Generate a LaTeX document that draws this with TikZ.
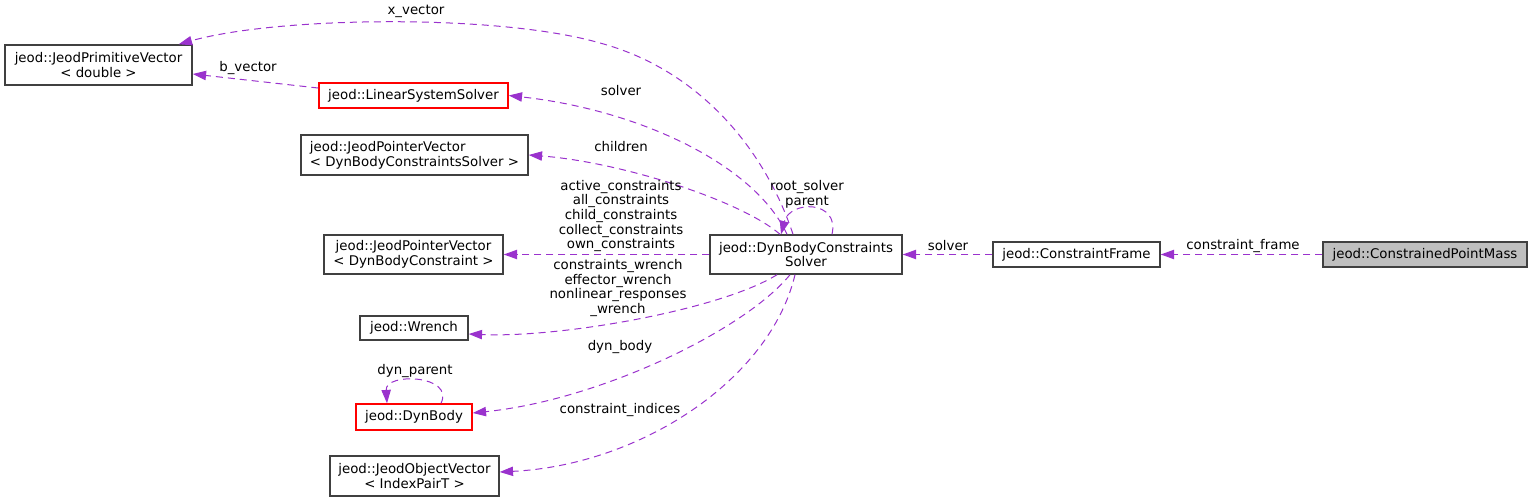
\documentclass[tikz,border=0pt]{standalone}
\usepackage{fontspec}
\setmainfont{DejaVu Sans}
\usetikzlibrary{arrows.meta}
\definecolor{edgec}{HTML}{9A32CD}
\definecolor{boxc}{HTML}{404040}
\definecolor{redc}{HTML}{FF0000}
\definecolor{fillc}{HTML}{BFBFBF}
\begin{document}
\begin{tikzpicture}[x=0.75pt,y=-0.75pt,
  box/.style={draw=boxc,line width=1.1pt,inner sep=0pt,font=\fontsize{10}{11}\selectfont,align=center},
  redbox/.style={box,draw=redc},
  edge/.style={draw=edgec,line width=0.75pt,dash pattern=on 5.25pt off 3.75pt,-{Triangle[length=10pt,width=7pt]}},
  lab/.style={font=\fontsize{10}{11}\selectfont,align=center,inner sep=0pt}]
\useasboundingbox (0,0) rectangle (1532,502);
% nodes
\node[box,minimum width=140.25pt,minimum height=30pt] (pvd) at (98.5,65) {jeod::JeodPrimitiveVector\\< double >};
\node[redbox,minimum width=141.75pt,minimum height=18.75pt] (lss) at (413.5,95.5) {jeod::LinearSystemSolver};
\node[box,align=left,minimum width=170.25pt,minimum height=30pt] (pvs) at (414.5,155) {jeod::JeodPointerVector\\< DynBodyConstraintsSolver >};
\node[box,minimum width=134.25pt,minimum height=29.25pt] (pvc) at (413.5,254.5) {jeod::JeodPointerVector\\< DynBodyConstraint >};
\node[box,minimum width=81pt,minimum height=18pt] (wr) at (414,328) {jeod::Wrench};
\node[redbox,minimum width=87pt,minimum height=19.5pt] (db) at (414,417) {jeod::DynBody};
\node[box,minimum width=126.75pt,minimum height=30pt] (ov) at (414.5,476) {jeod::JeodObjectVector\\< IndexPairT >};
\node[box,minimum width=144pt,minimum height=29.25pt] (dbcs) at (806,254.5) {jeod::DynBodyConstraints\\Solver};
\node[box,minimum width=125.25pt,minimum height=18.75pt] (cf) at (1076.5,254.5) {jeod::ConstraintFrame};
\node[box,fill=fillc,minimum width=153pt,minimum height=18.75pt] (cpm) at (1425,254.5) {jeod::ConstrainedPointMass};
% edges
\draw[edge] (cpm.west) -- (cf.east);
\draw[edge] (cf.west) -- (dbcs.east);
\draw[edge] (dbcs.west) -- (pvc.east);
\draw[edge] ([yshift=5.6pt]lss.west) -- ([yshift=-6.75pt]pvd.east);
\draw[edge] ([xshift=-9.75pt]dbcs.north) .. controls (765,150) and (700,70) .. (600,43) .. controls (500,14) and (280,16) .. ([xshift=-10.5pt]pvd.north east);
\draw[edge] ([xshift=-14.25pt]dbcs.north) .. controls (755,165) and (640,110) .. (lss.east);
\draw[edge] ([xshift=-19.5pt]dbcs.north) .. controls (740,200) and (620,162) .. (pvs.east);
\draw[edge] ([xshift=19.5pt]dbcs.north) .. controls (840,200) and (790,200) .. ([xshift=-18.75pt]dbcs.north);
\draw[edge] ([xshift=-21.75pt]dbcs.south) .. controls (720,310) and (560,338) .. ([yshift=-4.5pt]wr.east);
\draw[edge] ([xshift=-12pt]dbcs.south) .. controls (745,330) and (600,400) .. ([yshift=3pt]db.east);
\draw[edge] ([xshift=-8.25pt]dbcs.south) .. controls (770,380) and (640,465) .. ([yshift=3pt]ov.east);
\draw[edge] ([xshift=20.25pt]db.north) .. controls (455,375) and (385,372) .. ([xshift=-20.25pt]db.north);
% labels
\node[lab] (lx) at (416,11) {x\_vector};
\node[lab] (lb) at (248,68) {b\_vector};
\node[lab] (ls) at (621,91) {solver};
\node[lab] (lc) at (621,147) {children};
\node[lab] (lm) at (621,216) {active\_constraints\\all\_constraints\\child\_constraints\\collect\_constraints\\own\_constraints};
\node[lab] (lw) at (618,288) {constraints\_wrench\\effector\_wrench\\nonlinear\_responses\\\_wrench};
\node[lab] (ld) at (620,347) {dyn\_body};
\node[lab] (li) at (620,410) {constraint\_indices};
\node[lab] (lr) at (807,194) {root\_solver\\parent};
\node[lab] (lp) at (415,371) {dyn\_parent};
\node[lab] (ls2) at (948,246) {solver};
\node[lab] (lf) at (1243,246) {constraint\_frame};
\end{tikzpicture}
\end{document}
